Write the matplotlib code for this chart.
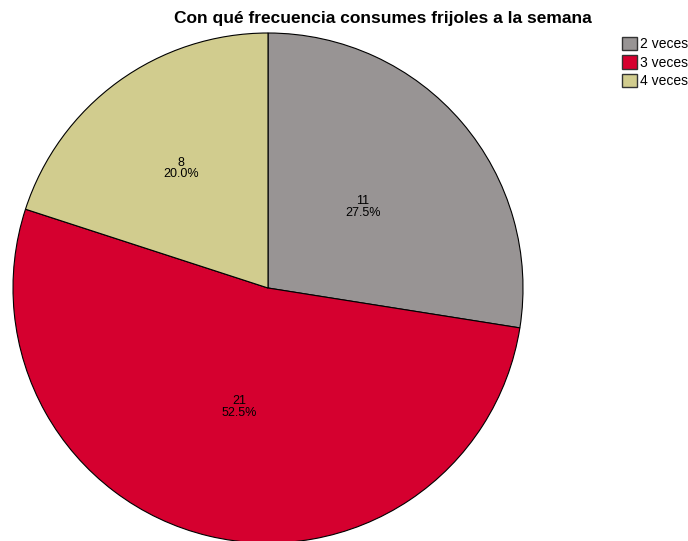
import numpy as np
import matplotlib

matplotlib.use("Agg")
import matplotlib.pyplot as plt  # noqa: E402
from matplotlib.patches import Patch  # noqa: E402

plt.rcParams["font.family"] = ["Liberation Sans", "DejaVu Sans"]

TITLE = "Con qué frecuencia consumes frijoles a la semana"
categories = ["2 veces", "3 veces", "4 veces"]
counts = [11, 21, 8]
colors = ["#989494", "#d5002f", "#d1cc8e"]
label_r = [0.49, 0.48, 0.58]

W, H = 688, 541
fig = plt.figure(figsize=(W / 100, H / 100), dpi=100)
cx, cy, r = 268, 288, 255
ax = fig.add_axes([(cx - r) / W, (H - cy - r) / H, 2 * r / W, 2 * r / H])
wedges, _ = ax.pie(counts, colors=colors, startangle=90, counterclock=False,
                   radius=1, wedgeprops=dict(edgecolor="black", linewidth=0.8))
ax.set_xlim(-1, 1)
ax.set_ylim(-1, 1)
ax.set_aspect("equal")
ax.axis("off")

total = sum(counts)
for w, n, lr in zip(wedges, counts, label_r):
    mid = np.deg2rad((w.theta1 + w.theta2) / 2)
    x, y = lr * np.cos(mid), lr * np.sin(mid)
    ax.text(x, y, f"{n}\n{100 * n / total:.1f}%", ha="center", va="center",
            fontsize=9, linespacing=0.95)

fig.text(383 / W, 1 - 19 / H, TITLE, ha="center", va="center",
         fontsize=12.5, fontweight="bold")

handles = [Patch(facecolor=c, edgecolor="#333333", linewidth=1) for c in colors]
fig.legend(handles, categories, loc="upper left", bbox_to_anchor=(619 / W, 1 - 34 / H),
           frameon=False, fontsize=10, handlelength=1.1, handleheight=1.1,
           handletextpad=0.2, labelspacing=0.3, borderaxespad=0, borderpad=0.2)

fig.savefig("out.png", dpi=100)
